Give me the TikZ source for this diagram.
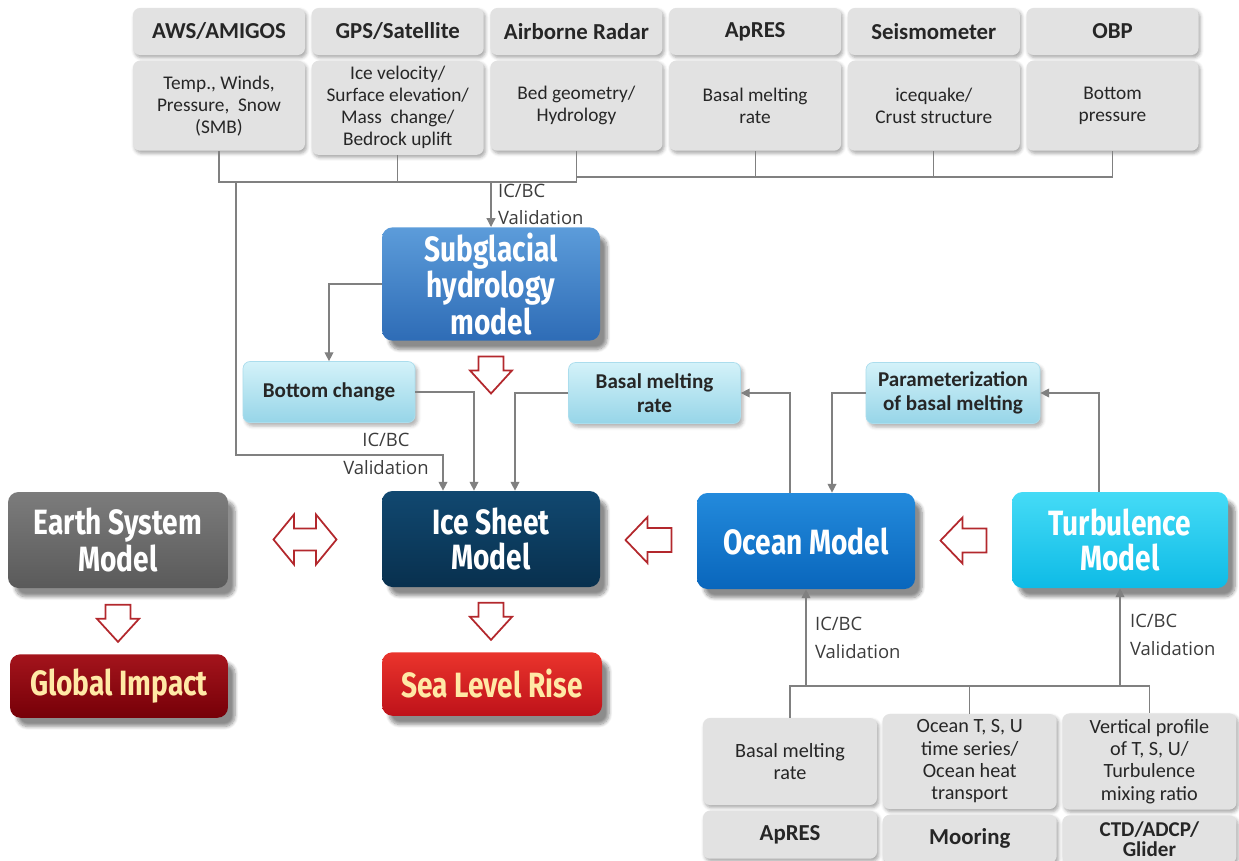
\documentclass[tikz,border=0pt]{standalone}
\usepackage{fontspec}
\setmainfont{Carlito}
\newfontfamily\notefont{Open Sans}
\newfontfamily\modelfont[FakeStretch=0.8]{Fira Sans}
\usetikzlibrary{positioning,calc,arrows.meta,shadows.blur}

\definecolor{boxgray}{HTML}{E2E2E2}
\definecolor{linegray}{HTML}{808080}
\definecolor{hollowred}{HTML}{B3282D}
\definecolor{subtop}{HTML}{5C9CDA}
\definecolor{subbot}{HTML}{2E6CB6}
\definecolor{icetop}{HTML}{114870}
\definecolor{icebot}{HTML}{08304E}
\definecolor{oceantop}{HTML}{238ADC}
\definecolor{oceanbot}{HTML}{0966BC}
\definecolor{turbtop}{HTML}{45DBF6}
\definecolor{turbbot}{HTML}{0EBBE6}
\definecolor{earthtop}{HTML}{7C7C7C}
\definecolor{earthbot}{HTML}{5A5A5A}
\definecolor{globtop}{HTML}{A4141C}
\definecolor{globbot}{HTML}{760008}
\definecolor{seatop}{HTML}{EA342C}
\definecolor{seabot}{HTML}{BE121A}
\definecolor{impacttext}{HTML}{FFE9A6}
\definecolor{cyantop}{HTML}{D4F2F9}
\definecolor{cyanbot}{HTML}{96D5E8}
\definecolor{notegray}{HTML}{3C3C3C}

\begin{document}
\begin{tikzpicture}[
    head/.style={rectangle, rounded corners=4pt, fill=boxgray, minimum width=3.44cm, minimum height=0.94cm, align=center, text=black!85, font=\fontsize{13}{13}\selectfont\bfseries, blur shadow={shadow xshift=1pt, shadow yshift=-1.5pt, shadow blur steps=4, shadow opacity=35}},
    data/.style={head, minimum height=1.8cm, font=\fontsize{11}{12.5}\selectfont},
    lower/.style={data, minimum width=3.48cm, minimum height=1.74cm, font=\fontsize{11.5}{12.7}\selectfont},
    lowerhead/.style={head, minimum width=3.48cm, minimum height=0.96cm, inner sep=1pt, font=\fontsize{13}{12.5}\selectfont\bfseries},
    model/.style={rectangle, rounded corners=6pt, minimum width=4.36cm, minimum height=1.92cm, align=center, text=white, font=\modelfont\bfseries\fontsize{20}{19.5}\selectfont, blur shadow={shadow xshift=4pt, shadow yshift=-5pt, shadow blur steps=8, shadow opacity=45}},
    result/.style={model, minimum height=1.27cm, text=impacttext},
    sub/.style={rectangle, rounded corners=4pt, top color=cyantop, bottom color=cyanbot, draw=cyanbot!80!white, minimum width=3.44cm, minimum height=1.22cm, align=center, text=black!85, font=\fontsize{12}{13.5}\selectfont\bfseries, blur shadow={shadow xshift=1.5pt, shadow yshift=-2pt, shadow blur steps=4, shadow opacity=30}},
    link/.style={draw=linegray, line width=0.7pt},
    arrow/.style={link, -{Triangle[width=5pt,length=5pt]}},
    note/.style={font=\notefont\fontsize{10.5}{15.5}\selectfont, text=notegray, inner sep=1pt},
    hollow/.style={draw=hollowred, fill=white, line width=1pt, line join=miter},
    hollowdown/.pic={\draw[hollow] (-0.25,0.37) -- (0.25,0.37) -- (0.25,0.09) -- (0.42,0.09) -- (0,-0.37) -- (-0.42,0.09) -- (-0.25,0.09) -- cycle;},
    hollowleft/.pic={\draw[hollow] (-0.46,0) -- (-0.02,0.46) -- (-0.02,0.24) -- (0.46,0.24) -- (0.46,-0.24) -- (-0.02,-0.24) -- (-0.02,-0.46) -- cycle;},
    hollowboth/.pic={\draw[hollow] (-0.63,0) -- (-0.22,0.5) -- (-0.22,0.22) -- (0.22,0.22) -- (0.22,0.5) -- (0.63,0) -- (0.22,-0.5) -- (0.22,-0.22) -- (-0.22,-0.22) -- (-0.22,-0.5) -- cycle;}
]
\useasboundingbox (0,0) rectangle (24.78,-17.2);

% Observations, top row
\node[head] (aws) at (4.38,-0.63) {AWS/AMIGOS};
\node[head, right=0.12cm of aws] (gps) {GPS/Satellite};
\node[head, right=0.12cm of gps] (radar) {Airborne Radar};
\node[head, right=0.12cm of radar] (apres) {ApRES};
\node[head, right=0.12cm of apres] (seis) {Seismometer};
\node[head, right=0.12cm of seis] (obp) {OBP};

\node[data, below=0.1cm of aws] (awsd) {Temp., Winds,\\Pressure,\ \ Snow\\(SMB)};
\node[data, below=0.1cm of gps] (gpsd) {Ice velocity/\\Surface elevation/\\Mass\ \ change/\\Bedrock uplift};
\node[data, below=0.1cm of radar] (radard) {Bed geometry/\\Hydrology};
\node[data, below=0.1cm of apres] (apresd) {Basal melting\\rate};
\node[data, below=0.1cm of seis] (seisd) {icequake/\\Crust structure};
\node[data, below=0.1cm of obp] (obpd) {Bottom\\pressure};

% Models
\node[model, top color=subtop, bottom color=subbot] (subglacial) at (9.82,-5.68) {Subglacial\\hydrology\\model};
\node[model, top color=icetop, bottom color=icebot] (ice) at (9.82,-10.78) {Ice Sheet\\Model};
\node[model, top color=earthtop, bottom color=earthbot, minimum width=4.4cm] (earth) at (2.36,-10.8) {Earth System\\Model};
\node[model, top color=oceantop, bottom color=oceanbot] (ocean) at (16.12,-10.82) {Ocean Model};
\node[model, top color=turbtop, bottom color=turbbot, minimum width=4.32cm] (turb) at (22.4,-10.8) {Turbulence\\Model};

\node[result, top color=globtop, bottom color=globbot] (global) at (2.38,-13.72) {Global Impact};
\node[result, top color=seatop, bottom color=seabot, minimum width=4.4cm] (sealevel) at (9.84,-13.68) {Sea Level Rise};

% Exchanged quantities
\node[sub] (bottom) at (6.58,-7.84) {Bottom change};
\node[sub] (basal) at (13.09,-7.86) {Basal melting\\rate};
\node[sub, minimum width=3.48cm] (param) at (19.06,-7.86) {Parameterization\\of basal melting};

% Ocean observations, bottom row
\node[lower] (obmr) at (15.8,-15.23) {Basal melting\\rate};
\node[lower, right=0.1cm of obmr] (otime) {Ocean T, S, U\\time series/\\Ocean heat\\transport};
\node[lower, right=0.1cm of otime] (overt) {Vertical profile\\of T, S, U/\\Turbulence\\mixing ratio};
\node[lowerhead, below=0.1cm of obmr] (oapres) {ApRES};
\node[lowerhead, below=0.1cm of otime] (omoor) {Mooring};
\node[lowerhead, below=0.1cm of overt, font=\fontsize{12}{11.5}\selectfont\bfseries] (octd) {CTD/ADCP/\\Glider};

% Bus levels
\coordinate (busL) at (0,-3.64);
\coordinate (busR) at (0,-3.54);
\coordinate (tapL) at (4.72,-3.64);
\coordinate (busB) at (0,-13.72);

% Top connectors
\draw[link] (awsd.south) |- (busL -| radard.south) -- (radard.south);
\draw[link] (gpsd.south) -- (gpsd.south |- busL);
\draw[link] (radard.south |- busR) -| (obpd.south);
\draw[link] (apresd.south) -- (apresd.south |- busR);
\draw[link] (seisd.south) -- (seisd.south |- busR);
\draw[arrow] (subglacial.north |- busL) -- (subglacial.north);
\draw[arrow] (tapL) |- ([xshift=-0.96cm]ice.north |- 0,-9.1) -- ([xshift=-0.96cm]ice.north);

% Model couplings
\draw[arrow] (subglacial.west) -| (bottom.north);
\draw[arrow] (bottom.east) -| ([xshift=-0.34cm]ice.north);
\draw[arrow] (basal.west) -| ([xshift=0.48cm]ice.north);
\draw[arrow] ([xshift=-0.32cm]ocean.north) |- (basal.east);
\draw[arrow] (param.west) -| ([xshift=0.52cm]ocean.north);
\draw[arrow] ([xshift=-0.42cm]turb.north) |- (param.east);

% Bottom connectors
\draw[link] (obmr.north) |- (busB -| overt.north) -- (overt.north);
\draw[link] (otime.north) -- (otime.north |- busB);
\draw[arrow] (ocean.south |- busB) -- (ocean.south);
\draw[arrow] (turb.south |- busB) -- (turb.south);

% Labels
\node[note, anchor=west, align=left] at (9.92,-4.09) {IC/BC\\Validation};
\node[note, align=center] at (7.72,-9.08) {IC/BC\\Validation};
\node[note, anchor=west, align=left] at (16.26,-12.76) {IC/BC\\Validation};
\node[note, anchor=west, align=left] at (22.56,-12.7) {IC/BC\\Validation};

% Hollow arrows
\pic at ($(subglacial.south)+(0,-0.68)$) {hollowdown};
\pic at ($(ice.south)+(0,-0.68)$) {hollowdown};
\pic at ($(earth.south)+(0,-0.7)$) {hollowdown};
\pic at ($(earth.east)!0.5!(ice.west)$) {hollowboth};
\pic at ($(ice.east)!0.5!(ocean.west)$) {hollowleft};
\pic at ($(ocean.east)!0.5!(turb.west)$) {hollowleft};

\end{tikzpicture}
\end{document}
